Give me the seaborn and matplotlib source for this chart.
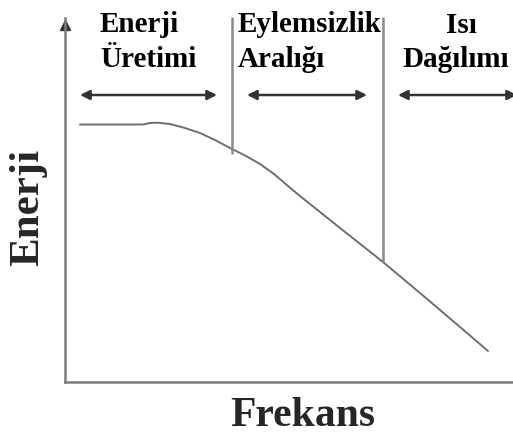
import numpy as np
import pandas as pd
import matplotlib
matplotlib.use("Agg")
import matplotlib.pyplot as plt
import seaborn as sns

# Energy spectrum (arbitrary units): flat production range, then a steady fall-off
frekans = [15, 78, 85, 92, 105, 120, 135, 150, 167, 181, 195, 209, 223, 235, 275, 318, 355, 395, 423]
enerji = [257.5, 257.5, 259, 259.3, 258, 254, 249, 242, 233, 226, 218, 208, 196, 186, 154, 120, 89, 55, 31]

# Boundaries between the three ranges
sinirlar = [167, 318]

# Range names and the span of each range's double arrow
bolge_ust = ["Enerji", "Eylemsizlik", "Isı"]
bolge_alt = ["Üretimi", "Aralığı", "Dağılımı"]
ok_araliklari = [(15, 152), (182, 302), (333, 452)]

sns.set_theme(style="white")
plt.rcParams["font.family"] = ["Liberation Serif", "DejaVu Serif"]

W, H = 513, 440
fig = plt.figure(figsize=(W / 100, H / 100), dpi=100)
ax = fig.add_axes([65 / W, 58 / H, 448 / W, 364 / H])

df = pd.DataFrame({"Frekans": frekans, "Enerji": enerji})
sns.lineplot(data=df, x="Frekans", y="Enerji", ax=ax, color="#6e6e6e",
             linewidth=1.4, sort=True)

ax.set_xlim(0, 448)
ax.set_ylim(0, 364)
ax.set_xticks([])
ax.set_yticks([])
ax.set_xlabel("")
ax.set_ylabel("")
for side in ("top", "right"):
    ax.spines[side].set_visible(False)
for side in ("left", "bottom"):
    ax.spines[side].set_color("#7a7a7a")
    ax.spines[side].set_linewidth(1.8)

# Arrow head on the energy axis
ax.plot([0], [357], marker="^", markersize=7, color="#333333",
        clip_on=False, transform=ax.transData)

# Vertical separators between ranges, dropping to the curve
for b in sinirlar:
    y_alt = np.interp(b, frekans, enerji)
    ax.plot([b, b], [y_alt - 4 if b == sinirlar[0] else y_alt, 364],
            color="#8a8a8a", linewidth=1.8, clip_on=False)

# Double arrows showing each range
for (x0, x1) in ok_araliklari:
    ax.annotate("", xy=(x1, 287), xytext=(x0, 287), xycoords="data",
                annotation_clip=False,
                arrowprops=dict(arrowstyle="<|-|>", color="#333333", lw=1.8,
                                mutation_scale=14, shrinkA=0, shrinkB=0))

# Range titles
baslik = dict(fontsize=21, fontweight="bold", color="black", va="baseline",
              clip_on=False)
ax.text(35, 350, bolge_ust[0], ha="left", **baslik)
ax.text(35, 315, bolge_alt[0], ha="left", **baslik)
ax.text(173, 350, bolge_ust[1], ha="left", **baslik)
ax.text(173, 315, bolge_alt[1], ha="left", **baslik)
ax.text(396, 349, bolge_ust[2], ha="center", **baslik)
ax.text(391, 315, bolge_alt[2], ha="center", **baslik)

# Axis titles
fig.text(28 / W, 1 - 207 / H, "Enerji", rotation=90, ha="center", va="center",
         fontsize=31, fontweight="bold")
fig.text(303 / W, 1 - 416 / H, "Frekans", ha="center", va="center",
         fontsize=30, fontweight="bold")

fig.savefig("out.png", dpi=100)
